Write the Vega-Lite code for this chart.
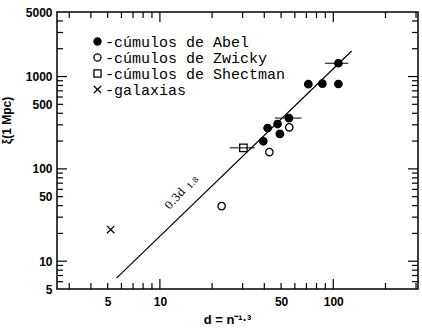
{
  "$schema": "https://vega.github.io/schema/vega-lite/v6.json",
  "width": 361,
  "height": 277,
  "autosize": "none",
  "padding": {"left": 57, "top": 12, "right": 4, "bottom": 39},
  "background": "white",
  "config": {
    "view": {"stroke": "black", "strokeWidth": 1.5},
    "axis": {"grid": false, "domain": false, "ticks": false,
      "labelFont": "Liberation Sans", "labelFontWeight": "bold", "labelFontSize": 12, "labelColor": "black",
      "titleFont": "Liberation Sans", "titleFontWeight": "bold", "titleFontSize": 12, "titleColor": "black"},
    "legend": {"labelLimit": 400}
  },
  "datasets": {
    "pts": [
      {"d": 107, "xi": 1393, "tipo": "-cúmulos de Abel"},
      {"d": 71.8, "xi": 826, "tipo": "-cúmulos de Abel"},
      {"d": 86.5, "xi": 838, "tipo": "-cúmulos de Abel"},
      {"d": 107, "xi": 830, "tipo": "-cúmulos de Abel"},
      {"d": 55.5, "xi": 355, "tipo": "-cúmulos de Abel"},
      {"d": 47.7, "xi": 306, "tipo": "-cúmulos de Abel"},
      {"d": 41.8, "xi": 277, "tipo": "-cúmulos de Abel"},
      {"d": 49.2, "xi": 239, "tipo": "-cúmulos de Abel"},
      {"d": 39.5, "xi": 199, "tipo": "-cúmulos de Abel"},
      {"d": 42.8, "xi": 152, "tipo": "-cúmulos de Zwicky"},
      {"d": 22.7, "xi": 39.5, "tipo": "-cúmulos de Zwicky"},
      {"d": 55.7, "xi": 282, "tipo": "-cúmulos de Zwicky"},
      {"d": 30.3, "xi": 169, "tipo": "-cúmulos de Shectman"},
      {"d": 5.2, "xi": 22, "tipo": "-galaxias"}
    ],
    "err": [
      {"xi": 1393, "lo": 89.6, "hi": 122},
      {"xi": 355, "lo": 46, "hi": 65.6},
      {"xi": 169, "lo": 25.3, "hi": 35.3}
    ],
    "fit": [
      {"d": 5.62, "xi": 6.56},
      {"d": 127.6, "xi": 1892}
    ],
    "lab": [
      {"d": 12.3, "xi": 47, "t": "0.3d", "s": 11},
      {"d": 15.6, "xi": 70, "t": "1.8", "s": 8}
    ],
    "xt": [
      {"v": 3, "k": "m"}, {"v": 4, "k": "m"}, {"v": 5, "k": "m"}, {"v": 6, "k": "m"}, {"v": 7, "k": "m"}, {"v": 8, "k": "m"}, {"v": 9, "k": "m"},
      {"v": 10, "k": "M"}, {"v": 20, "k": "m"}, {"v": 30, "k": "m"}, {"v": 40, "k": "m"}, {"v": 50, "k": "m"}, {"v": 60, "k": "m"}, {"v": 70, "k": "m"}, {"v": 80, "k": "m"}, {"v": 90, "k": "m"},
      {"v": 100, "k": "M"}, {"v": 200, "k": "m"}, {"v": 300, "k": "m"}
    ],
    "yt": [
      {"v": 6, "k": "m"}, {"v": 7, "k": "m"}, {"v": 8, "k": "m"}, {"v": 9, "k": "m"},
      {"v": 10, "k": "M"}, {"v": 20, "k": "m"}, {"v": 30, "k": "m"}, {"v": 40, "k": "m"}, {"v": 50, "k": "m"}, {"v": 60, "k": "m"}, {"v": 70, "k": "m"}, {"v": 80, "k": "m"}, {"v": 90, "k": "m"},
      {"v": 100, "k": "M"}, {"v": 200, "k": "m"}, {"v": 300, "k": "m"}, {"v": 400, "k": "m"}, {"v": 500, "k": "m"}, {"v": 600, "k": "m"}, {"v": 700, "k": "m"}, {"v": 800, "k": "m"}, {"v": 900, "k": "m"},
      {"v": 1000, "k": "M"}, {"v": 2000, "k": "m"}, {"v": 3000, "k": "m"}, {"v": 4000, "k": "m"}
    ]
  },
  "layer": [
    {
      "data": {"name": "xt"},
      "mark": {"type": "tick", "orient": "vertical", "color": "black", "thickness": 1.2, "clip": true, "opacity": 1},
      "encoding": {
        "x": {"field": "v", "type": "quantitative", "scale": {"type": "log", "domain": [2.55, 308], "nice": false},
          "axis": {"orient": "bottom", "title": "d = n⁻¹·³", "titleX": 170, "titlePadding": 6, "titleFontSize": 13, "values": [5, 10, 50, 100], "format": "d", "labelPadding": 7}},
        "y": {"datum": 5, "type": "quantitative", "scale": {"type": "log", "domain": [5, 5000], "nice": false},
          "axis": {"orient": "left", "title": "ξ(1 Mpc)", "titleX": -44, "titleY": 108, "values": [5, 10, 50, 100, 500, 1000, 5000], "format": "d", "labelPadding": 5}},
        "size": {"field": "k", "type": "ordinal", "scale": {"domain": ["M", "m"], "range": [20, 12]}, "legend": null}
      }
    },
    {
      "data": {"name": "xt"},
      "mark": {"type": "tick", "orient": "vertical", "color": "black", "thickness": 1.2, "clip": true, "opacity": 1},
      "encoding": {
        "x": {"field": "v", "type": "quantitative", "scale": {"type": "log", "domain": [2.55, 308], "nice": false},
          "axis": {"orient": "bottom", "title": "d = n⁻¹·³", "titleX": 170, "titlePadding": 6, "titleFontSize": 13, "values": [5, 10, 50, 100], "format": "d", "labelPadding": 7}},
        "y": {"datum": 5000, "type": "quantitative", "scale": {"type": "log", "domain": [5, 5000], "nice": false},
          "axis": {"orient": "left", "title": "ξ(1 Mpc)", "titleX": -44, "titleY": 108, "values": [5, 10, 50, 100, 500, 1000, 5000], "format": "d", "labelPadding": 5}},
        "size": {"field": "k", "type": "ordinal", "scale": {"domain": ["M", "m"], "range": [20, 12]}, "legend": null}
      }
    },
    {
      "data": {"name": "yt"},
      "mark": {"type": "tick", "orient": "horizontal", "color": "black", "thickness": 1.2, "clip": true, "opacity": 1},
      "encoding": {
        "y": {"field": "v", "type": "quantitative", "scale": {"type": "log", "domain": [5, 5000], "nice": false},
          "axis": {"orient": "left", "title": "ξ(1 Mpc)", "titleX": -44, "titleY": 108, "values": [5, 10, 50, 100, 500, 1000, 5000], "format": "d", "labelPadding": 5}},
        "x": {"datum": 2.55, "type": "quantitative", "scale": {"type": "log", "domain": [2.55, 308], "nice": false},
          "axis": {"orient": "bottom", "title": "d = n⁻¹·³", "titleX": 170, "titlePadding": 6, "titleFontSize": 13, "values": [5, 10, 50, 100], "format": "d", "labelPadding": 7}},
        "size": {"field": "k", "type": "ordinal", "scale": {"domain": ["M", "m"], "range": [20, 12]}, "legend": null}
      }
    },
    {
      "data": {"name": "yt"},
      "mark": {"type": "tick", "orient": "horizontal", "color": "black", "thickness": 1.2, "clip": true, "opacity": 1},
      "encoding": {
        "y": {"field": "v", "type": "quantitative", "scale": {"type": "log", "domain": [5, 5000], "nice": false},
          "axis": {"orient": "left", "title": "ξ(1 Mpc)", "titleX": -44, "titleY": 108, "values": [5, 10, 50, 100, 500, 1000, 5000], "format": "d", "labelPadding": 5}},
        "x": {"datum": 308, "type": "quantitative", "scale": {"type": "log", "domain": [2.55, 308], "nice": false},
          "axis": {"orient": "bottom", "title": "d = n⁻¹·³", "titleX": 170, "titlePadding": 6, "titleFontSize": 13, "values": [5, 10, 50, 100], "format": "d", "labelPadding": 7}},
        "size": {"field": "k", "type": "ordinal", "scale": {"domain": ["M", "m"], "range": [20, 12]}, "legend": null}
      }
    },
    {
      "data": {"name": "fit"},
      "mark": {"type": "line", "color": "black", "strokeWidth": 1.2},
      "encoding": {
        "x": {"field": "d", "type": "quantitative", "scale": {"type": "log", "domain": [2.55, 308], "nice": false},
          "axis": {"orient": "bottom", "title": "d = n⁻¹·³", "titleX": 170, "titlePadding": 6, "titleFontSize": 13, "values": [5, 10, 50, 100], "format": "d", "labelPadding": 7}},
        "y": {"field": "xi", "type": "quantitative", "scale": {"type": "log", "domain": [5, 5000], "nice": false},
          "axis": {"orient": "left", "title": "ξ(1 Mpc)", "titleX": -44, "titleY": 108, "values": [5, 10, 50, 100, 500, 1000, 5000], "format": "d", "labelPadding": 5}}
      }
    },
    {
      "data": {"name": "err"},
      "mark": {"type": "rule", "color": "black", "strokeWidth": 1},
      "encoding": {
        "x": {"field": "lo", "type": "quantitative", "scale": {"type": "log", "domain": [2.55, 308], "nice": false},
          "axis": {"orient": "bottom", "title": "d = n⁻¹·³", "titleX": 170, "titlePadding": 6, "titleFontSize": 13, "values": [5, 10, 50, 100], "format": "d", "labelPadding": 7}},
        "x2": {"field": "hi"},
        "y": {"field": "xi", "type": "quantitative", "scale": {"type": "log", "domain": [5, 5000], "nice": false},
          "axis": {"orient": "left", "title": "ξ(1 Mpc)", "titleX": -44, "titleY": 108, "values": [5, 10, 50, 100, 500, 1000, 5000], "format": "d", "labelPadding": 5}}
      }
    },
    {
      "data": {"name": "pts"},
      "mark": {"type": "point", "strokeWidth": 1.3, "opacity": 1, "size": 55},
      "encoding": {
        "x": {"field": "d", "type": "quantitative", "scale": {"type": "log", "domain": [2.55, 308], "nice": false},
          "axis": {"orient": "bottom", "title": "d = n⁻¹·³", "titleX": 170, "titlePadding": 6, "titleFontSize": 13, "values": [5, 10, 50, 100], "format": "d", "labelPadding": 7}},
        "y": {"field": "xi", "type": "quantitative", "scale": {"type": "log", "domain": [5, 5000], "nice": false},
          "axis": {"orient": "left", "title": "ξ(1 Mpc)", "titleX": -44, "titleY": 108, "values": [5, 10, 50, 100, 500, 1000, 5000], "format": "d", "labelPadding": 5}},
        "shape": {"field": "tipo", "type": "nominal",
          "scale": {"domain": ["-cúmulos de Abel", "-cúmulos de Zwicky", "-cúmulos de Shectman", "-galaxias"],
            "range": ["circle", "circle", "square", "M-1,-1L1,1M-1,1L1,-1"]},
          "legend": {"orient": "none", "legendX": 33, "legendY": 22, "title": null,
            "labelFont": "Liberation Mono", "labelFontSize": 15, "labelColor": "black", "labelOffset": 0,
            "symbolSize": 50, "symbolStrokeWidth": 1.3, "rowPadding": -4}},
        "fill": {"field": "tipo", "type": "nominal",
          "scale": {"domain": ["-cúmulos de Abel", "-cúmulos de Zwicky", "-cúmulos de Shectman", "-galaxias"],
            "range": ["black", "transparent", "transparent", "transparent"]},
          "legend": {"orient": "none", "legendX": 33, "legendY": 22, "title": null,
            "labelFont": "Liberation Mono", "labelFontSize": 15, "labelColor": "black", "labelOffset": 0,
            "symbolSize": 50, "symbolStrokeWidth": 1.3, "rowPadding": -4}},
        "stroke": {"field": "tipo", "type": "nominal",
          "scale": {"domain": ["-cúmulos de Abel", "-cúmulos de Zwicky", "-cúmulos de Shectman", "-galaxias"],
            "range": ["black", "black", "black", "black"]},
          "legend": {"orient": "none", "legendX": 33, "legendY": 22, "title": null,
            "labelFont": "Liberation Mono", "labelFontSize": 15, "labelColor": "black", "labelOffset": 0,
            "symbolSize": 50, "symbolStrokeWidth": 1.3, "rowPadding": -4}}
      }
    },
    {
      "data": {"name": "lab"},
      "mark": {"type": "text", "font": "DejaVu Serif", "angle": 312, "color": "black"},
      "encoding": {
        "x": {"field": "d", "type": "quantitative", "scale": {"type": "log", "domain": [2.55, 308], "nice": false},
          "axis": {"orient": "bottom", "title": "d = n⁻¹·³", "titleX": 170, "titlePadding": 6, "titleFontSize": 13, "values": [5, 10, 50, 100], "format": "d", "labelPadding": 7}},
        "y": {"field": "xi", "type": "quantitative", "scale": {"type": "log", "domain": [5, 5000], "nice": false},
          "axis": {"orient": "left", "title": "ξ(1 Mpc)", "titleX": -44, "titleY": 108, "values": [5, 10, 50, 100, 500, 1000, 5000], "format": "d", "labelPadding": 5}},
        "text": {"field": "t"},
        "size": {"field": "s", "type": "quantitative", "scale": null}
      }
    }
  ],
  "resolve": {"scale": {"size": "independent"}}
}
